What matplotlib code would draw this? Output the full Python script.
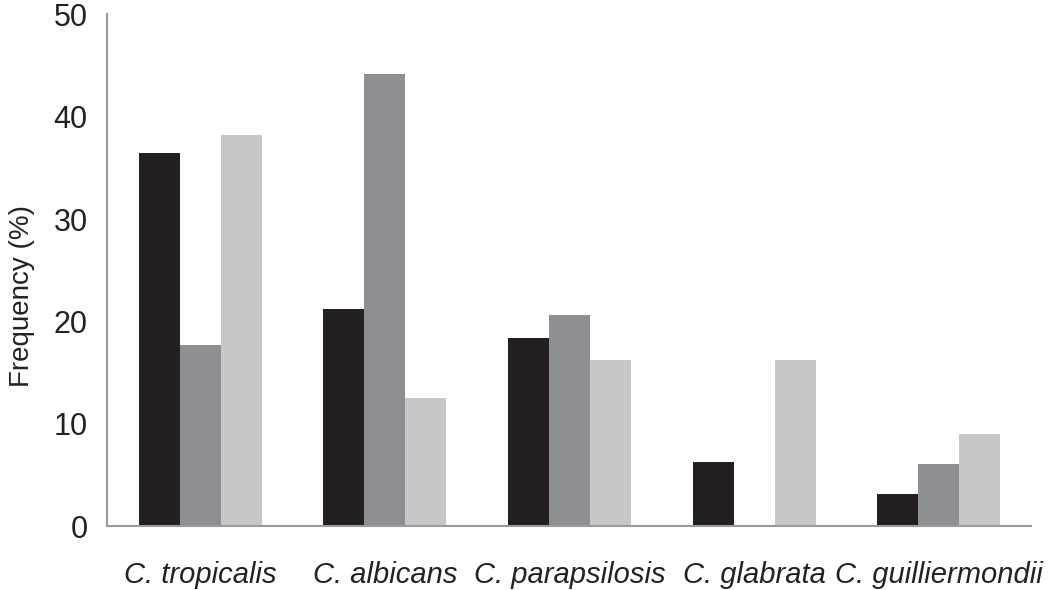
import numpy as np
import matplotlib
matplotlib.use("Agg")
import matplotlib.pyplot as plt

plt.rcParams['font.family'] = ['Liberation Sans', 'DejaVu Sans']

SPECIES = ["C. tropicalis", "C. albicans", "C. parapsilosis", "C. glabrata", "C. guilliermondii"]
SERIES_A = [36.4, 21.2, 18.4, 6.3, 3.2]
SERIES_B = [17.7, 44.2, 20.6, 0.0, 6.1]
SERIES_C = [38.2, 12.5, 16.2, 16.2, 9.0]
COLORS = ["#231f20", "#8e8f93", "#c6c7c9"]

fig = plt.figure(figsize=(10.5, 5.9), dpi=100)
ax = fig.add_axes([0.102, 0.108, 0.880, 0.868])

x = np.arange(len(SPECIES))
w = 0.222
for k, (vals, col) in enumerate(zip([SERIES_A, SERIES_B, SERIES_C], COLORS)):
    ax.bar(x + (k - 1) * w, vals, width=w, color=col, edgecolor="none")

ax.set_xlim(-0.505, 4.5)
ax.set_ylim(0, 50)
ax.set_yticks([0, 10, 20, 30, 40, 50])
ax.set_xticks(x)
ax.set_xticklabels(SPECIES, style="italic", fontsize=21)
ax.tick_params(axis="both", length=0, colors="#222222")
ax.tick_params(axis="y", labelsize=22, pad=14)
ax.tick_params(axis="x", pad=25)
ax.set_ylabel("Frequency (%)", fontsize=20, color="#222222", labelpad=12)
ax.yaxis.set_label_coords(-0.078, 0.449)

for s in ["top", "right"]:
    ax.spines[s].set_visible(False)
for s in ["left", "bottom"]:
    ax.spines[s].set_color("#9a9a9a")
    ax.spines[s].set_linewidth(1.5)

fig.savefig("out.png", dpi=100)
